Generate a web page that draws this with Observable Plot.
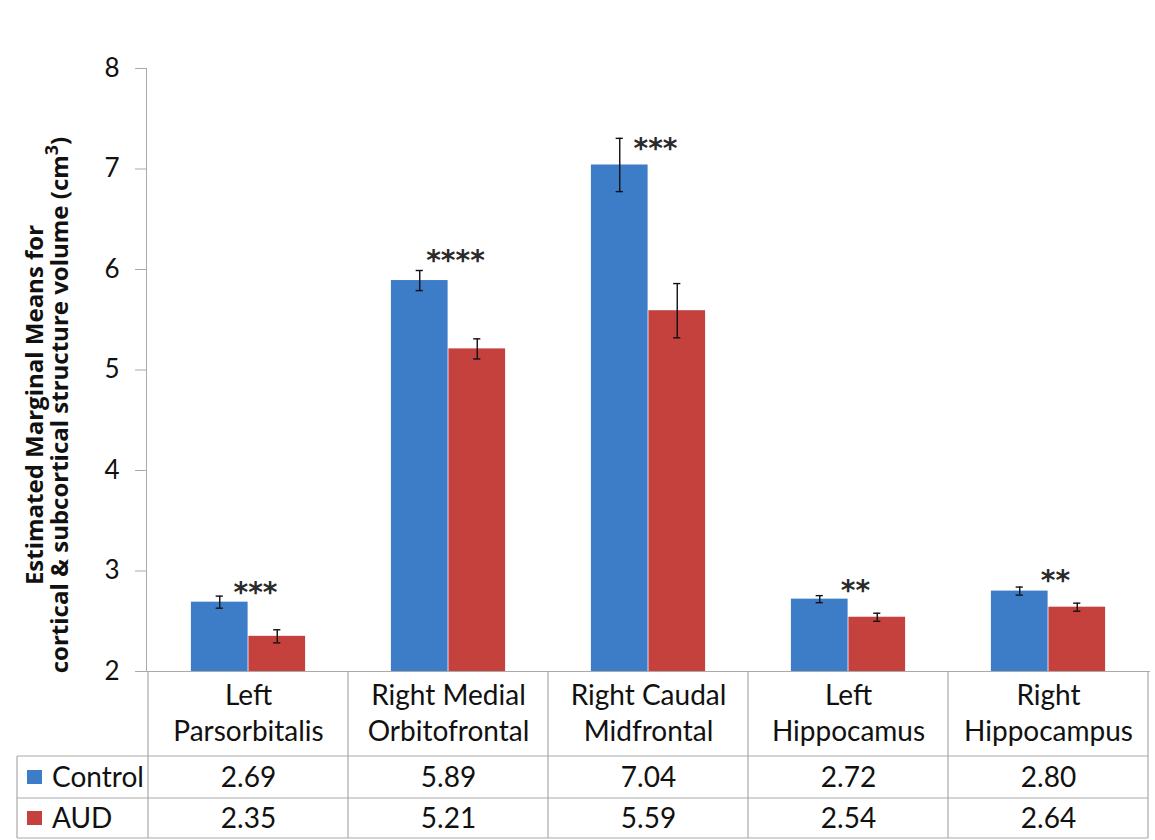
<!DOCTYPE html>
<html><head><meta charset="utf-8">
<script src="https://cdn.jsdelivr.net/npm/d3@7"></script>
<script src="https://cdn.jsdelivr.net/npm/@observablehq/plot@0.6"></script>
<style>
body{margin:0;background:#fff;}
#chart svg{display:block;font-family:Lato,"Open Sans",sans-serif;}
</style>
</head><body><div id="chart"></div>
<script>
// ---- data ----
const categories = ["Left\nParsorbitalis", "Right Medial\nOrbitofrontal", "Right Caudal\nMidfrontal", "Left\nHippocamus", "Right\nHippocampus"];
const groups = ["Control", "AUD"];
const controlMeans = [2.69, 5.89, 7.04, 2.72, 2.80];
const audMeans = [2.35, 5.21, 5.59, 2.54, 2.64];
const controlErr = [0.06, 0.10, 0.265, 0.035, 0.04];
const audErr = [0.065, 0.10, 0.27, 0.04, 0.04];
const controlLabels = ["2.69", "5.89", "7.04", "2.72", "2.80"];
const audLabels = ["2.35", "5.21", "5.59", "2.54", "2.64"];
const significance = ["***", "****", "***", "**", "**"];
const significanceY = [2.81, 6.11, 7.23, 2.83, 2.93];
const yTicks = [2, 3, 4, 5, 6, 7, 8];
const colors = {Control: "#3d7cc6", AUD: "#c5413e"};

// ---- layout ----
const W = 1155, H = 840;
const mL = 146, mR = 5, mT = 68, mB = 169;
const bandW = (W - mL - mR) / categories.length;
const barW = 57.5;
const outer = (bandW - 2 * barW) / 2;
const capW = 8;
const gridColor = "#a9a9a9";
const font = "Lato, 'Open Sans', sans-serif";
const tableFontSize = 28;

const rows = [];
categories.forEach((c, i) => {
  rows.push({category: c, group: "Control", mean: controlMeans[i], err: controlErr[i]});
  rows.push({category: c, group: "AUD", mean: audMeans[i], err: audErr[i]});
});
const ctrl = rows.filter(d => d.group === "Control");
const aud = rows.filter(d => d.group === "AUD");
const sigRows = categories.map((c, i) => ({category: c, text: significance[i], y: significanceY[i]}));

const errMarks = (data, side) => {
  const dx = side * barW / 2;
  const capLeft = bandW / 2 + dx - capW / 2;
  const capRight = bandW - capLeft - capW;
  return [
    Plot.ruleX(data, {x: "category", y1: d => d.mean - d.err, y2: d => d.mean + d.err, dx, stroke: "#111", strokeWidth: 1.4}),
    Plot.tickY(data, {x: "category", y: d => d.mean + d.err, insetLeft: capLeft, insetRight: capRight, stroke: "#111", strokeWidth: 1.4}),
    Plot.tickY(data, {x: "category", y: d => d.mean - d.err, insetLeft: capLeft, insetRight: capRight, stroke: "#111", strokeWidth: 1.4})
  ];
};

const tableText = {fontSize: tableFontSize, fill: "#111", fontFamily: font, frameAnchor: "bottom", lineAnchor: "top"};

const plot = Plot.plot({
  width: W, height: H,
  marginLeft: mL, marginRight: mR, marginTop: mT, marginBottom: mB,
  style: {fontFamily: font, background: "#fff"},
  x: {domain: categories, padding: 0, axis: null},
  y: {domain: [2, 8], ticks: yTicks, label: null},
  marks: [
    Plot.barY(ctrl, {x: "category", y1: 2, y2: "mean", fill: colors.Control, insetLeft: outer, insetRight: bandW - outer - barW}),
    Plot.barY(aud, {x: "category", y1: 2, y2: "mean", fill: colors.AUD, insetLeft: outer + barW, insetRight: outer}),
    ...errMarks(ctrl, -1),
    ...errMarks(aud, 1),
    Plot.text(sigRows, {x: "category", y: "y", text: "text", dx: 7, dy: 3, lineAnchor: "middle", fontSize: 28, fontWeight: "bold", fill: "#2a2a2a", fontFamily: "'DejaVu Sans', sans-serif"}),
    Plot.axisY({ticks: yTicks, tickSize: 11, tickPadding: 16, fontSize: 26, fill: "#111", stroke: gridColor, label: null, tickFormat: d3.format("d")}),
    Plot.frame({anchor: "left", stroke: gridColor}),
    Plot.ruleY([2], {stroke: gridColor}),
    // table header (categories, two lines)
    Plot.text(categories, {x: d => d, text: d => d.split("\n")[0], dy: 14, ...tableText}),
    Plot.text(categories, {x: d => d, text: d => d.split("\n")[1], dy: 50, ...tableText}),
    // table values
    Plot.text(categories.map((c, i) => ({c, t: controlLabels[i]})), {x: "c", text: "t", dy: 96, ...tableText}),
    Plot.text(categories.map((c, i) => ({c, t: audLabels[i]})), {x: "c", text: "t", dy: 137, ...tableText})
  ]
});

document.getElementById("chart").append(plot);
const svg = d3.select(plot);

const x = plot.scale("x");
const yBottom = H - mB;
const rowLines = [756, 798, 838];
const gLines = svg.append("g").attr("stroke", gridColor).attr("stroke-width", 1.2);
// vertical column lines
categories.forEach(c => {
  const x0 = x.apply(c);
  gLines.append("line").attr("x1", x0).attr("x2", x0).attr("y1", yBottom).attr("y2", rowLines[2]);
});
const xEnd = x.apply(categories[categories.length - 1]) + x.bandwidth;
gLines.append("line").attr("x1", xEnd).attr("x2", xEnd).attr("y1", yBottom).attr("y2", rowLines[2]);
gLines.append("line").attr("x1", 17).attr("x2", 17).attr("y1", rowLines[0]).attr("y2", rowLines[2]);
rowLines.forEach(yy => gLines.append("line").attr("x1", 17).attr("x2", xEnd).attr("y1", yy).attr("y2", yy));

// legend rows (series keys of the data table)
const legendBase = [787, 828];
groups.forEach((g, i) => {
  svg.append("rect").attr("x", 27).attr("y", legendBase[i] - 17).attr("width", 15).attr("height", 14).attr("fill", colors[g]);
  svg.append("text").attr("x", 52).attr("y", legendBase[i]).attr("text-anchor", "start")
    .attr("font-size", tableFontSize).attr("fill", "#111").attr("font-family", font).text(g);
});

// y axis title with superscript
const title = svg.append("text").attr("transform", "translate(0,405) rotate(-90)")
  .attr("text-anchor", "middle").attr("font-weight", "bold").attr("font-size", 24).attr("fill", "#111")
  .attr("font-family", "'Open Sans', Lato, sans-serif");
title.append("tspan").attr("x", 0).attr("y", 43).text("Estimated Marginal Means for");
const line2 = title.append("tspan").attr("x", 0).attr("y", 68).text("cortical & subcortical structure volume (cm");
title.append("tspan").attr("dy", -10).attr("font-size", 18).text("3");
title.append("tspan").attr("dy", 10).text(")");
</script>
</body></html>
